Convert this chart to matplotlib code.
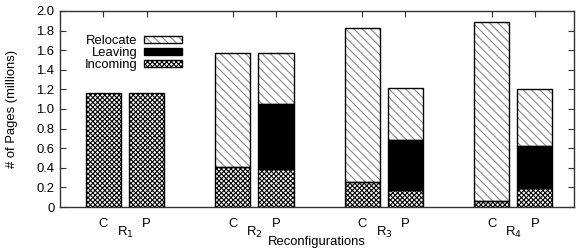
import matplotlib
matplotlib.use("Agg")
import matplotlib.pyplot as plt
import numpy as np
from matplotlib.patches import Patch
from matplotlib.legend_handler import HandlerTuple

plt.rcParams['font.family'] = ['Liberation Sans', 'DejaVu Sans']
plt.rcParams['hatch.linewidth'] = 0.8

groups = ["R$_1$", "R$_2$", "R$_3$", "R$_4$"]
variants = ["C", "P"]
# values in millions of pages: [R1C, R1P, R2C, R2P, R3C, R3P, R4C, R4P]
incoming = [1.16, 1.16, 0.41, 0.39, 0.26, 0.17, 0.06, 0.19]
leaving  = [0.00, 0.00, 0.00, 0.66, 0.00, 0.51, 0.00, 0.43]
relocate = [0.00, 0.00, 1.16, 0.52, 1.565, 0.53, 1.825, 0.58]

REL_HATCH = '\\' * 4
REL_COL = '#8a8a8a'
INC_HATCH = 'x' * 7

fig = plt.figure(figsize=(5.77, 2.5), dpi=100)
ax = fig.add_axes([60/577, 1-207/250, (574-60)/577, (207-11)/250])

off = 0.167
width = 0.272
xpos = []
labels = []
for g in range(len(groups)):
    for j, v in enumerate(variants):
        xpos.append(g + (-off if j == 0 else off))
        labels.append(v)
xpos = np.array(xpos)
inc = np.array(incoming); lev = np.array(leaving); rel = np.array(relocate)

def draw(bottom, h, hatch, hcol, face='white'):
    m = h > 0
    ax.bar(xpos[m], h[m], width, bottom=bottom[m], color=face, hatch=hatch,
           edgecolor=hcol, linewidth=0, zorder=2)
    ax.bar(xpos[m], h[m], width, bottom=bottom[m], fill=False,
           edgecolor='black', linewidth=1.0, zorder=3)

draw(np.zeros_like(inc), inc, INC_HATCH, 'black')
draw(inc, lev, None, 'black', face='black')
draw(inc + lev, rel, REL_HATCH, REL_COL)

ax.set_xlim(-0.502, 3.47)
ax.set_ylim(0, 2.0)
yt = np.arange(0, 2.01, 0.2)
ax.set_yticks(yt)
ax.set_yticklabels(["0"] + [f"{v:.1f}" for v in yt[1:]])
ax.set_xticks(xpos)
ax.set_xticklabels(labels)
ax.tick_params(axis='both', direction='in', length=4, width=0.8, labelsize=9.4,
               top=True, right=True, color='#333333')
ax.tick_params(axis='y', pad=4)
ax.tick_params(axis='x', pad=8)
for s in ax.spines.values():
    s.set_linewidth(1.0)
    s.set_color('#333333')

trans = ax.get_xaxis_transform()
for g, name in enumerate(groups):
    ax.text(g, -0.09, name, transform=trans, ha='center', va='top', fontsize=9.4)

ax.set_xlabel("Reconfigurations", fontsize=9.4)
ax.xaxis.set_label_coords(0.5, -0.15)
ax.set_ylabel("# of Pages (millions)", fontsize=9.4)
ax.yaxis.set_label_coords(-0.082, 0.5)

def proxy(hatch, hcol, face='white'):
    return (Patch(facecolor=face, hatch=hatch, edgecolor=hcol, linewidth=0),
            Patch(fill=False, edgecolor='black', linewidth=1.0))

handles = [proxy(REL_HATCH, REL_COL), proxy(None, 'black', 'black'), proxy(INC_HATCH, 'black')]
ax.legend(handles, ["Relocate", "Leaving", "Incoming"], loc='upper right',
          bbox_to_anchor=(0.237, 0.878), frameon=False, markerfirst=False,
          handler_map={tuple: HandlerTuple(ndivide=1, pad=0)},
          handlelength=2.9, handleheight=0.45, labelspacing=0.0, fontsize=9.4,
          handletextpad=0.5, borderaxespad=0.0, borderpad=0.0)

fig.savefig("out.png", dpi=100)
